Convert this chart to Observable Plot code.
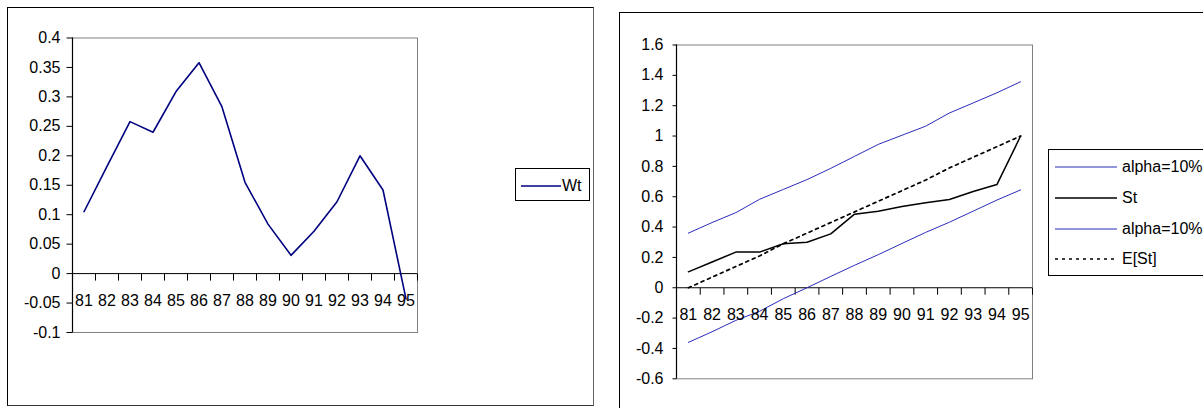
<!DOCTYPE html>
<html><head><meta charset="utf-8">
<script src="https://cdn.jsdelivr.net/npm/d3@7"></script>
<script src="https://cdn.jsdelivr.net/npm/@observablehq/plot@0.6"></script>
<style>
body{margin:0;background:#fff;}
#wrap{position:relative;width:1203px;height:408px;overflow:hidden;font-family:"Liberation Sans",Arial,sans-serif;color:#000;}
.panel{position:absolute;box-sizing:border-box;border-style:solid;border-width:1px;}
#p1{left:7px;top:7px;width:587px;height:399px;border-color:#000 #666 #333 #000;}
#p2{left:619px;top:12px;width:620px;height:420px;border-color:#000;}
.chart{position:absolute;top:0;}
.legend{position:absolute;box-sizing:border-box;border:1px solid #000;background:#fff;font-size:16px;}
.legend .item{position:absolute;height:20px;}
.legend svg{position:absolute;left:0;top:0;overflow:visible;}
.legend span{position:absolute;top:0;line-height:20px;white-space:nowrap;}
</style>
</head><body>
<div id="wrap">
  <div class="panel" id="p1"></div>
  <div class="panel" id="p2"></div>
  <div class="chart" id="c1" style="left:0px"></div>
  <div class="chart" id="c2" style="left:600px"></div>
  <div class="legend" id="l1" style="left:515px;top:168px;width:75px;height:33px;"></div>
  <div class="legend" id="l2" style="left:1048px;top:149px;width:180px;height:127px;"></div>
</div>
<script>
// ---- data ----
const years = [81, 82, 83, 84, 85, 86, 87, 88, 89, 90, 91, 92, 93, 94, 95];
const tickLabels = ["81","82","83","84","85","86","87","88","89","90","91","92","93","94","95"];
const wt = [0.105, 0.182, 0.258, 0.240, 0.309, 0.358, 0.283, 0.155, 0.084, 0.031, 0.072, 0.122, 0.200, 0.142, -0.043];
const alphaUpper = [0.36, 0.43, 0.495, 0.583, 0.648, 0.713, 0.787, 0.866, 0.945, 1.005, 1.065, 1.152, 1.218, 1.285, 1.358];
const st = [0.105, 0.17, 0.235, 0.235, 0.29, 0.30, 0.355, 0.485, 0.505, 0.535, 0.56, 0.582, 0.635, 0.68, 1.0];
const alphaLower = [-0.36, -0.29, -0.215, -0.155, -0.072, 0.0, 0.075, 0.148, 0.218, 0.292, 0.365, 0.432, 0.505, 0.578, 0.645];
const est = [0.0, 0.07, 0.14, 0.21, 0.29, 0.36, 0.43, 0.5, 0.57, 0.64, 0.71, 0.79, 0.86, 0.93, 1.0];
const leftYTicks = [-0.1, -0.05, 0, 0.05, 0.1, 0.15, 0.2, 0.25, 0.3, 0.35, 0.4];
const leftYLabels = ["-0.1", "-0.05", "0", "0.05", "0.1", "0.15", "0.2", "0.25", "0.3", "0.35", "0.4"];
const rightYTicks = [-0.6, -0.4, -0.2, 0, 0.2, 0.4, 0.6, 0.8, 1, 1.2, 1.4, 1.6];
const rightYLabels = ["-0.6", "-0.4", "-0.2", "0", "0.2", "0.4", "0.6", "0.8", "1", "1.2", "1.4", "1.6"];
const leftLegend = ["Wt"];
const rightLegend = ["alpha=10%", "St", "alpha=10%", "E[St]"];

const xDomain = [years[0] - 0.5, years[years.length - 1] + 0.5];
const bounds = years.map(y => y + 0.5);
const downTick = {draw(ctx) { ctx.moveTo(0, 0); ctx.lineTo(0, 7); }};
const leftTick = (len) => ({draw(ctx) { ctx.moveTo(0, 0); ctx.lineTo(-len, 0); }});
const rows = (arr) => years.map((y, i) => ({year: y, v: arr[i]}));

function baseMarks(yTicks, yLabels, tickLen, labelGap) {
  return [
    Plot.frame({stroke: "#808080"}),
    Plot.ruleY([0], {stroke: "black", strokeWidth: 1}),
    Plot.dot(bounds, {x: d => d, y: d => 0, symbol: downTick, stroke: "black", fill: "none", strokeWidth: 1, r: 2}),
    Plot.ruleX([xDomain[0]], {stroke: "black", strokeWidth: 1.2}),
    Plot.dot(yTicks, {x: d => xDomain[0], y: d => d, symbol: leftTick(tickLen), stroke: "black", fill: "none", strokeWidth: 1, r: 2}),
    Plot.text(yTicks, {x: d => xDomain[0], y: d => d, text: (d, i) => yLabels[i], textAnchor: "end", dx: -(tickLen + labelGap), fill: "black", fontSize: 16})
  ];
}
function labels() {
  return Plot.text(years, {x: d => d, y: d => 0, text: (d, i) => tickLabels[i], dy: 27, fill: "black", fontSize: 16});
}
const style = {fontFamily: "'Liberation Sans', Arial, sans-serif", fontSize: "16px", color: "black", background: "transparent", overflow: "visible"};

const c1 = Plot.plot({
  width: 600, height: 408,
  marginLeft: 72, marginRight: 183, marginTop: 37.5, marginBottom: 76,
  style,
  x: {type: "linear", domain: xDomain, axis: null},
  y: {domain: [-0.1, 0.4], axis: null},
  marks: [
    ...baseMarks(leftYTicks, leftYLabels, 6, 6),
    Plot.line(rows(wt), {x: "year", y: "v", stroke: "#000080", strokeWidth: 1.6}),
    labels()
  ]
});
document.getElementById("c1").appendChild(c1);

const c2 = Plot.plot({
  width: 603, height: 408,
  marginLeft: 76, marginRight: 171, marginTop: 44.5, marginBottom: 29.7,
  style,
  x: {type: "linear", domain: xDomain, axis: null},
  y: {domain: [-0.6, 1.6], axis: null},
  marks: [
    ...baseMarks(rightYTicks, rightYLabels, 4, 9),
    Plot.line(rows(alphaUpper), {x: "year", y: "v", stroke: "#2b2bbb", strokeWidth: 1}),
    Plot.line(rows(alphaLower), {x: "year", y: "v", stroke: "#2b2bbb", strokeWidth: 1}),
    Plot.line(rows(st), {x: "year", y: "v", stroke: "black", strokeWidth: 1.5}),
    Plot.line(rows(est), {x: "year", y: "v", stroke: "black", strokeWidth: 1.7, strokeDasharray: "3,4"}),
    labels()
  ]
});
document.getElementById("c2").appendChild(c2);

// ---- legends ----
function legend(el, items, lineX0, lineX1, textX, topOffset, step) {
  items.forEach((it, i) => {
    const d = document.createElement("div");
    d.className = "item";
    d.style.left = "0px";
    d.style.top = (topOffset + i * step - 10) + "px";
    d.innerHTML = `<svg width="1" height="20"><line x1="${lineX0}" x2="${lineX1}" y1="10" y2="10" stroke="${it.color}" stroke-width="${it.w}" ${it.dash ? `stroke-dasharray="${it.dash}"` : ""}/></svg><span style="left:${textX}px">${it.label}</span>`;
    el.appendChild(d);
  });
}
legend(document.getElementById("l1"), [{label: leftLegend[0], color: "#000080", w: 1.6}], 5, 45, 46, 17, 0);
legend(document.getElementById("l2"), [
  {label: rightLegend[0], color: "#2b2bbb", w: 1},
  {label: rightLegend[1], color: "black", w: 1.5},
  {label: rightLegend[2], color: "#2b2bbb", w: 1},
  {label: rightLegend[3], color: "black", w: 1.7, dash: "3,4"}
], 6, 68, 73, 17, 30.8);
</script>
</body></html>
